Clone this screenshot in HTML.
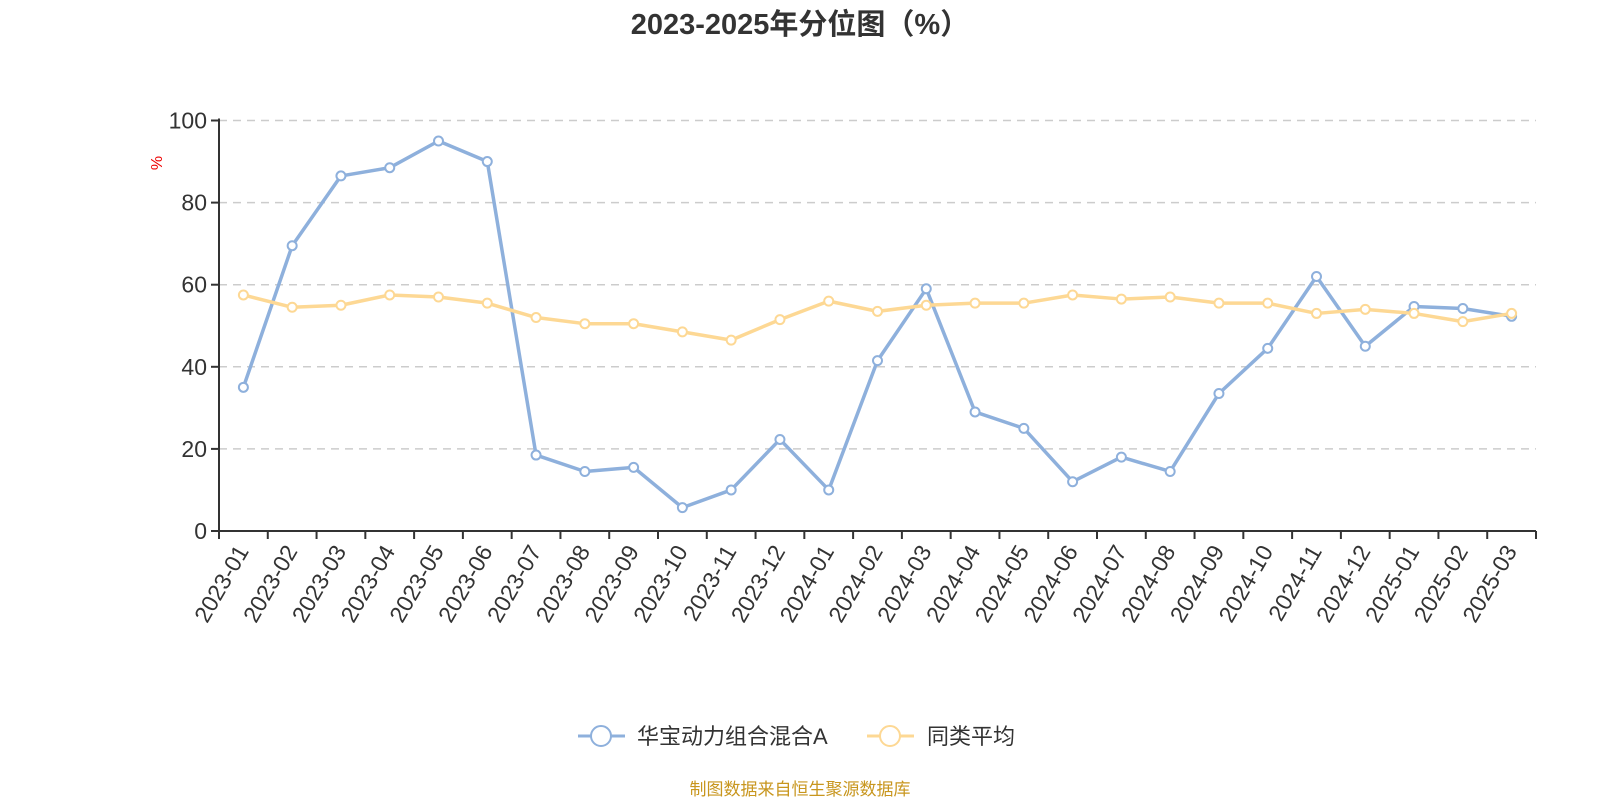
<!DOCTYPE html>
<html><head><meta charset="utf-8"><style>
body{margin:0;background:#fff;}
svg text{font-family:"Liberation Sans","Noto Sans CJK SC",sans-serif;}
</style></head><body>
<svg id="chart" width="1600" height="800" xmlns="http://www.w3.org/2000/svg">
<text x="800" y="34" text-anchor="middle" font-size="29" font-weight="bold" fill="#333">2023-2025年分位图（%）</text>
<text transform="translate(162,163) rotate(-90)" text-anchor="middle" font-size="16" fill="#e00">%</text>
<g id="grid"></g><g id="axes"></g><g id="series"></g>
<g>
<g>
<line x1="578" y1="736" x2="625" y2="736" stroke="#8eb0dc" stroke-width="3"/>
<circle cx="601" cy="736" r="10" fill="#fff" stroke="#8eb0dc" stroke-width="2"/>
<text x="637" y="744" font-size="22" fill="#333">华宝动力组合混合A</text></g>
<g>
<line x1="867" y1="736" x2="914" y2="736" stroke="#fdd894" stroke-width="3"/>
<circle cx="890" cy="736" r="10" fill="#fff" stroke="#fdd894" stroke-width="2"/>
<text x="927" y="744" font-size="22" fill="#333">同类平均</text></g>
</g>
<text x="800" y="795" text-anchor="middle" font-size="17" fill="#c8961e">制图数据来自恒生聚源数据库</text>
</svg>
<script>
const categories=["2023-01","2023-02","2023-03","2023-04","2023-05","2023-06","2023-07","2023-08","2023-09","2023-10","2023-11","2023-12","2024-01","2024-02","2024-03","2024-04","2024-05","2024-06","2024-07","2024-08","2024-09","2024-10","2024-11","2024-12","2025-01","2025-02","2025-03"];
const fundValues=[35,69.5,86.5,88.5,95,90,18.5,14.5,15.5,5.7,10,22.3,10,41.5,59,29,25,12,18,14.5,33.5,44.5,62,45,54.7,54.2,52.3];
const avgValues=[57.5,54.5,55,57.5,57,55.5,52,50.5,50.5,48.5,46.5,51.5,56,53.5,55,55.5,55.5,57.5,56.5,57,55.5,55.5,53,54,53,51,53];
const yTicks=[0,20,40,60,80,100];
const NS="http://www.w3.org/2000/svg";
const L=219,R=1536,T=120.5,B=531;
const band=(R-L)/categories.length;
const xs=i=>L+band*(i+0.5);
const ys=v=>B-(v/100)*(B-T);
function mk(tag,attrs,parent){const e=document.createElementNS(NS,tag);for(const k in attrs)e.setAttribute(k,attrs[k]);parent.appendChild(e);return e;}
const grid=document.getElementById('grid'),axes=document.getElementById('axes'),ser=document.getElementById('series');
yTicks.forEach(t=>{
  if(t>0){const g=mk('line',{x1:L,x2:R,y1:ys(t),y2:ys(t),stroke:'#ccc','stroke-width':1.5,'stroke-dasharray':'8,6'},grid);
  
  }
  const tk=mk('line',{x1:L-8,x2:L,y1:ys(t),y2:ys(t),stroke:'#333','stroke-width':2},axes);
  
  
  const tx=mk('text',{x:L-12,y:ys(t)+8,'text-anchor':'end','font-size':23,fill:'#333'},axes);
  tx.textContent=t;
  
  
});
const ya=mk('line',{x1:L,x2:L,y1:T-2,y2:B,stroke:'#333','stroke-width':2},axes);


const xa=mk('line',{x1:L,x2:R,y1:B,y2:B,stroke:'#333','stroke-width':2},axes);


for(let i=0;i<=categories.length;i++){
  const tk=mk('line',{x1:L+band*i,x2:L+band*i,y1:B,y2:B+8,stroke:'#333','stroke-width':2},axes);
  
  
}
categories.forEach((c,i)=>{
  const x=xs(i),y=B+14;
  const tx=mk('text',{x:x+6,y:y+6,'text-anchor':'end','font-size':23,fill:'#333',transform:`rotate(-60 ${x+6} ${y+6})`},axes);
  tx.textContent=c;
  
  
});
function drawSeries(vals,color,name){
  const p=mk('polyline',{points:vals.map((v,i)=>xs(i)+','+ys(v)).join(' '),fill:'none',stroke:color,'stroke-width':3.5,'stroke-linejoin':'round'},ser);
  
  
  vals.forEach((v,i)=>{
    const c=mk('circle',{cx:xs(i),cy:ys(v),r:4.5,fill:'#fff',stroke:color,'stroke-width':2},ser);
    
    
  });
}
drawSeries(fundValues,'#8eb0dc','fund');
drawSeries(avgValues,'#fdd894','average');
</script>
</body></html>
